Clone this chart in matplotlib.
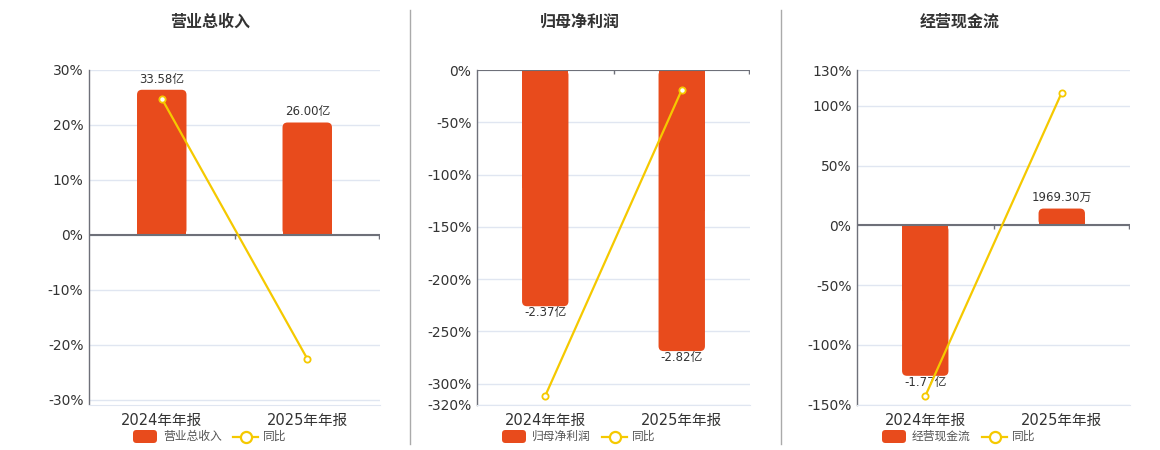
import numpy as np
import matplotlib
matplotlib.use('Agg')
import matplotlib.pyplot as plt
from matplotlib.patches import FancyBboxPatch, Rectangle
from matplotlib.lines import Line2D

plt.rcParams['font.family'] = ['DejaVu Sans', 'Noto Sans CJK SC']

# Data
categories = ['2024年年报', '2025年年报']
titles = ['营业总收入', '归母净利润', '经营现金流']
bar_values = [[33.58, 26.00], [-2.37, -2.82], [-1.77, 0.19693]]   # 亿
bar_labels = [['33.58亿', '26.00亿'], ['-2.37亿', '-2.82亿'], ['-1.77亿', '1969.30万']]
yoy = [[24.8, -22.57], [-311.7, -19.0], [-143.0, 111.1]]            # %
pct_ticks = [[-30, -20, -10, 0, 10, 20, 30],
             [-320, -300, -250, -200, -150, -100, -50, 0],
             [-150, -100, -50, 0, 50, 100, 130]]
pct_lims = [(-30.9, 30), (-320, 0), (-150, 130)]
# bar scale: 亿 per percent unit of left axis
bar_scale = [33.58 / 26.4, 2.37 / 226.0, 1.77 / 126.0]

BAR = '#E84B1C'
LINE = '#F5C900'
AXIS = '#6E7079'
GRID = '#E0E6F1'
TXT = '#333333'

W, H = 1160, 450
fig = plt.figure(figsize=(11.6, 4.5), dpi=100)

# axes placement in pixels (left, right)
axes_px = [(89, 380), (477, 750), (857, 1130)]
title_x = [210, 580, 960]
legend_x = [133, 502, 882]
top_px, bot_px = 70, 404.5

def fx(p):
    return p / W

def fy(p):
    return 1 - p / H

x = np.arange(len(categories))

for i in range(3):
    l, r = axes_px[i]
    pos = [fx(l), fy(bot_px), fx(r) - fx(l), fy(top_px) - fy(bot_px)]
    ax = fig.add_axes(pos)
    ax.set_xlim(-0.5, 1.5)
    ax.set_ylim(*pct_lims[i])
    ax.set_yticks(pct_ticks[i])
    ax.set_yticklabels([f'{t}%' for t in pct_ticks[i]])
    ax.set_xticks(x)
    ax.set_xticklabels(categories)
    ax.tick_params(axis='y', length=0, pad=4, labelsize=10, labelcolor=TXT)
    ax.tick_params(axis='x', length=0, pad=6, labelsize=10.5, labelcolor=TXT)
    for t in pct_ticks[i]:
        ax.axhline(t, color=GRID, lw=1, zorder=0)
    for s in ['top', 'right']:
        ax.spines[s].set_visible(False)
    ax.spines['bottom'].set_color(GRID)
    ax.spines['left'].set_color(AXIS)
    ax.spines['left'].set_linewidth(1)

    # bars on a hidden twin axis
    axb = ax.twinx()
    k = bar_scale[i]
    axb.set_ylim(pct_lims[i][0] * k, pct_lims[i][1] * k)
    axb.axis('off')
    bw = 0.34
    fig.canvas.draw()
    p0 = axb.transData.transform((0, 0))
    p1 = axb.transData.transform((1, 1))
    xpp = 1 / (p1[0] - p0[0])
    ypp = 1 / (p1[1] - p0[1])
    rad = 5 * xpp
    for j, v in enumerate(bar_values[i]):
        xl = x[j] - bw / 2
        y0 = min(0, v)
        hgt = abs(v)
        box = FancyBboxPatch((xl, y0), bw, hgt,
                             boxstyle=f'round,pad=0,rounding_size={rad}',
                             mutation_aspect=ypp / xpp,
                             fc=BAR, ec='none')
        axb.add_patch(box)
        # square corners at the zero end
        axb.add_patch(Rectangle((xl, min(0, v / 2)), bw, hgt / 2,
                                fc=BAR, ec='none'))
        if v >= 0:
            axb.annotate(bar_labels[i][j], (x[j], v), xytext=(0, 3),
                         textcoords='offset points', ha='center', va='bottom',
                         fontsize=8.5, color=TXT)
        else:
            axb.annotate(bar_labels[i][j], (x[j], v), xytext=(0, 0),
                         textcoords='offset points', ha='center', va='top',
                         fontsize=8.5, color=TXT)

    # line + zero axis on top
    axl = ax.twinx()
    axl.set_ylim(*pct_lims[i])
    axl.axis('off')
    axl.axhline(0, color=AXIS, lw=1.5, zorder=3)
    p0 = axl.transData.transform((0, 0))
    p1 = axl.transData.transform((1, 1))
    tick_len = 4 / (p1[1] - p0[1])
    axl.vlines([0.5, 1.5 - 0.004], -tick_len, 0, color=AXIS, lw=1, zorder=3)
    axl.plot(x, yoy[i], color=LINE, lw=1.6, marker='o', ms=4.5,
             mfc='white', mec=LINE, mew=1.3, zorder=5)
    axl.set_xlim(-0.5, 1.5)

    # title
    fig.text(fx(title_x[i]), fy(22), titles[i], ha='center', va='center',
             fontsize=11.5, fontweight='bold', color=TXT,
             family=['Noto Sans CJK SC', 'DejaVu Sans'])

    # legend
    lx = legend_x[i]
    ly = 436.5
    fig.add_artist(FancyBboxPatch((fx(lx), fy(ly + 6.5)), fx(24), 13 / H,
                                  boxstyle='round,pad=0,rounding_size=0.003',
                                  mutation_aspect=W / H,
                                  fc=BAR, ec='none', transform=fig.transFigure))
    fig.text(fx(lx + 30), fy(ly), titles[i], ha='left', va='center',
             fontsize=8.5, color='#555555',
             family=['Noto Sans CJK SC', 'DejaVu Sans'])
    ll = lx + 100
    fig.add_artist(Line2D([fx(ll), fx(ll + 25)], [fy(ly), fy(ly)], color=LINE,
                          lw=1.6, transform=fig.transFigure))
    fig.add_artist(Line2D([fx(ll + 12.5)], [fy(ly)], color=LINE, marker='o',
                          ms=8, mfc='white', mec=LINE, mew=1.6,
                          transform=fig.transFigure))
    fig.text(fx(ll + 30), fy(ly), '同比', ha='left', va='center',
             fontsize=8.5, color='#555555',
             family=['Noto Sans CJK SC', 'DejaVu Sans'])

# separators
for sx in [410, 781]:
    fig.add_artist(Line2D([fx(sx), fx(sx)], [fy(10), fy(444)], color='#AAAAAA',
                          lw=1, transform=fig.transFigure))

fig.savefig('out.png', dpi=100)
